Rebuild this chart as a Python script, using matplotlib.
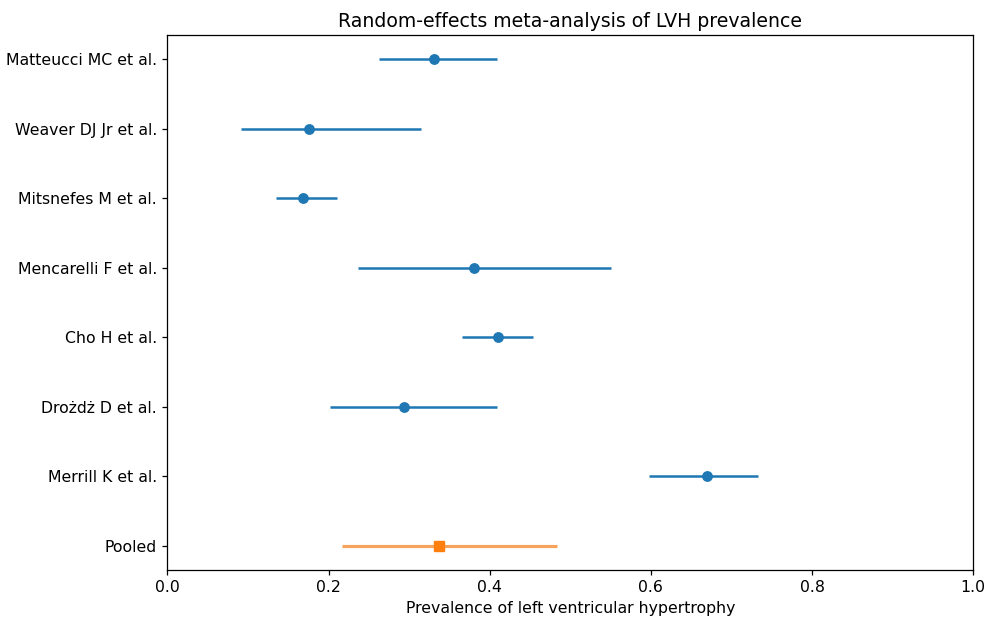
import numpy as np
import matplotlib
matplotlib.use("Agg")
import matplotlib.pyplot as plt

studies = ["Matteucci MC et al.", "Weaver DJ Jr et al.", "Mitsnefes M et al.",
           "Mencarelli F et al.", "Cho H et al.", "Drożdż D et al.", "Merrill K et al."]
prev = [0.331, 0.176, 0.168, 0.381, 0.410, 0.294, 0.670]
ci_low = [0.263, 0.091, 0.135, 0.236, 0.366, 0.202, 0.598]
ci_high = [0.409, 0.315, 0.210, 0.551, 0.454, 0.409, 0.733]

pooled = 0.337
pooled_low = 0.217
pooled_high = 0.484

# reference looks rendered a bit larger than default, scale things up
s = 1.13
plt.rcParams["font.size"] = 10 * s
plt.rcParams["axes.linewidth"] = 0.8 * s
plt.rcParams["xtick.major.width"] = 0.8 * s
plt.rcParams["ytick.major.width"] = 0.8 * s
plt.rcParams["xtick.major.size"] = 3.5 * s
plt.rcParams["ytick.major.size"] = 3.5 * s

fig = plt.figure(figsize=(9.85, 6.17), dpi=100)
ax = fig.add_axes([0.170, 0.076, 0.818, 0.867])

n = len(studies)
ypos = np.arange(n, 0, -1)  # top to bottom, pooled at 0

prev = np.array(prev)
err = [prev - np.array(ci_low), np.array(ci_high) - prev]
ax.errorbar(prev, ypos, xerr=err, fmt="o", color="#1f77b4", ecolor="#1f77b4",
            elinewidth=1.6 * s, markersize=6 * s)

ax.errorbar([pooled], [0], xerr=[[pooled - pooled_low], [pooled_high - pooled]],
            fmt="s", color="#ff7f0e", ecolor="#f7a35c", elinewidth=2 * s, markersize=6 * s)

ax.set_yticks(list(ypos) + [0])
ax.set_yticklabels(studies + ["Pooled"])
ax.set_xlim(0, 1)
ax.set_xlabel("Prevalence of left ventricular hypertrophy")
ax.set_title("Random-effects meta-analysis of LVH prevalence", fontsize=12 * s)

fig.savefig("out.png", dpi=100)
